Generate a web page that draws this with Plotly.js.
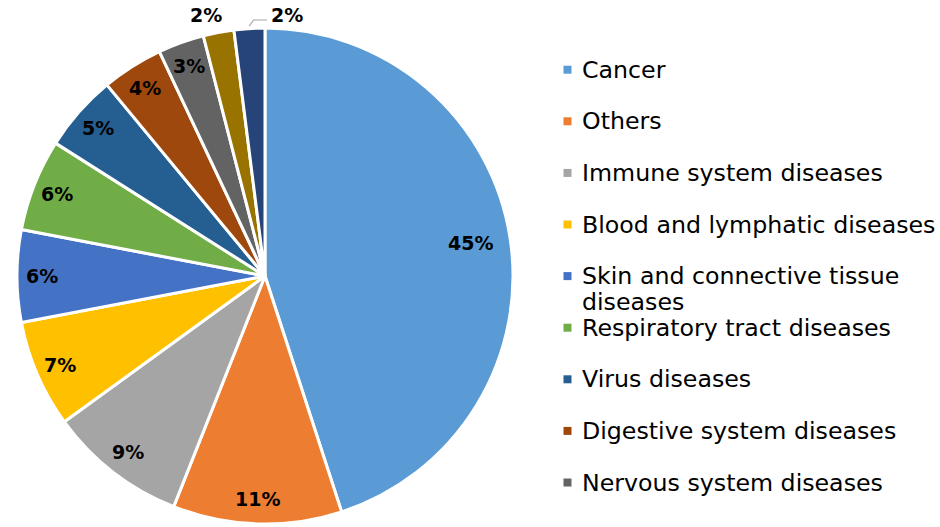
<!DOCTYPE html>
<html>
<head>
<meta charset="utf-8">
<script src="https://cdn.plot.ly/plotly-3.0.1.min.js"></script>
<style>html,body{margin:0;padding:0;background:#fff;}#chart{width:940px;height:527px;}</style>
</head>
<body>
<div id="chart"></div>
<script>
const categories = [
  "Cancer", "Others", "Immune system diseases", "Blood and lymphatic diseases",
  "Skin and connective tissue diseases", "Respiratory tract diseases", "Virus diseases",
  "Digestive system diseases", "Nervous system diseases", "Category 10", "Category 11"
];
const values = [45, 11, 9, 7, 6, 6, 5, 4, 3, 2, 2];
const sliceColors = ["#5B9BD5", "#ED7D31", "#A5A5A5", "#FFC000", "#4472C4", "#70AD47",
  "#255E91", "#9E480E", "#636363", "#997300", "#264478"];
const legendLabels = ["Cancer", "Others", "Immune system diseases", "Blood and lymphatic diseases",
  "Skin and connective tissue<br>diseases", "Respiratory tract diseases", "Virus diseases",
  "Digestive system diseases", "Nervous system diseases"];

const W = 940, H = 527;
const CX = 265, CY = 276, R = 248;
const px = x => x / W, py = y => 1 - y / H;

const trace = {
  type: 'pie',
  labels: categories,
  values: values,
  sort: false,
  direction: 'clockwise',
  rotation: 0,
  marker: {colors: sliceColors, line: {color: '#ffffff', width: 3}},
  textinfo: 'none',
  hoverinfo: 'label+percent',
  domain: {x: [px(CX - R), px(CX + R)], y: [py(CY + R), py(CY - R)]},
  showlegend: false
};

const shapes = [], annotations = [];

// percentage labels, placed from the slice mid-angles
const total = values.reduce((a, b) => a + b, 0);
let cum = 0;
const pctFont = {family: 'DejaVu Sans', size: 19, color: '#000000', weight: 'bold'};
values.forEach((v, i) => {
  const frac = v / total;
  const mid = (cum + frac / 2) * 2 * Math.PI;
  cum += frac;
  const txt = Math.round(frac * 100) + '%';
  const pt = f => [CX + f * R * Math.sin(mid), CY - f * R * Math.cos(mid)];
  if (frac >= 0.025) {
    const [x, y] = pt(frac > 0.3 ? 0.84 : 0.9);
    annotations.push({xref: 'paper', yref: 'paper', x: px(x), y: py(y), xanchor: 'center', yanchor: 'middle',
      showarrow: false, text: txt, font: pctFont});
  } else if (i === values.length - 2) {
    const [x, y] = pt(1.0);
    annotations.push({xref: 'paper', yref: 'paper', x: px(x - 13), y: py(y - 17), xanchor: 'center', yanchor: 'middle',
      showarrow: false, text: txt, font: pctFont});
  } else {
    const [x, y] = pt(1.01);
    shapes.push({type: 'path', xref: 'paper', yref: 'paper',
      path: 'M' + px(x) + ',' + py(y) + ' L' + px(x + 4.3) + ',' + py(y - 6) + ' L' + px(x + 17.7) + ',' + py(y - 6),
      line: {color: '#A6A6A6', width: 1.2}});
    annotations.push({xref: 'paper', yref: 'paper', x: px(x + 38), y: py(y - 11), xanchor: 'center', yanchor: 'middle',
      showarrow: false, text: txt, font: pctFont});
  }
});

// legend
const legY0 = 69.7, legStep = 51.6, lineGap = 26;
const legFont = {family: 'DejaVu Sans', size: 23.7, color: '#000000'};
legendLabels.forEach((lab, i) => {
  const yc = legY0 + i * legStep;
  shapes.push({type: 'rect', xref: 'paper', yref: 'paper',
    x0: px(563.5), x1: px(571.5), y0: py(yc + 4), y1: py(yc - 4),
    fillcolor: sliceColors[i], line: {width: 0}});
  lab.split('<br>').forEach((line, k) => {
    annotations.push({xref: 'paper', yref: 'paper', x: px(579.5), y: py(yc + k * lineGap),
      xanchor: 'left', yanchor: 'middle', align: 'left', showarrow: false, text: line, font: legFont});
  });
});

const layout = {
  width: W, height: H,
  margin: {l: 0, r: 0, t: 0, b: 0},
  paper_bgcolor: '#ffffff',
  showlegend: false,
  shapes: shapes,
  annotations: annotations
};
Plotly.newPlot('chart', [trace], layout, {displayModeBar: false, staticPlot: true});
</script>
</body>
</html>
